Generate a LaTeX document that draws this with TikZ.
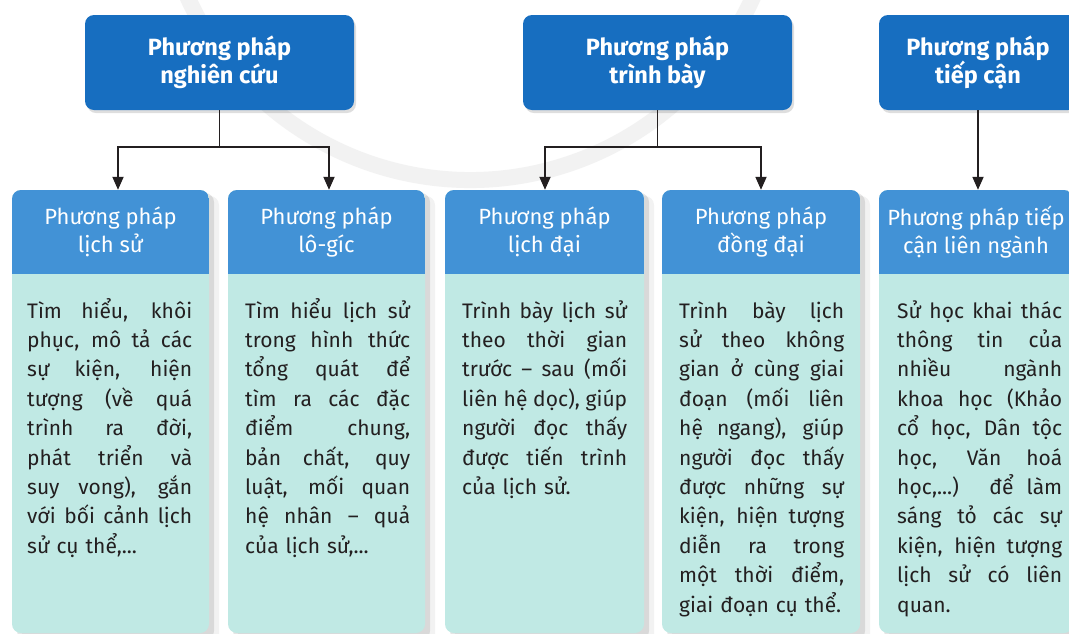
\documentclass[tikz,border=0pt]{standalone}
\usepackage{fontspec}
\setmainfont{Fira Sans}
\usetikzlibrary{arrows.meta,shadows}
\definecolor{topblue}{HTML}{176EC0}
\definecolor{hdrblue}{HTML}{4292D6}
\definecolor{bodyteal}{HTML}{C0E9E4}
\definecolor{ink}{HTML}{231F20}
% one justified line of a column text (normal, stretchable word spaces)
\newcommand\jl[1]{{\spaceskip=0pt\xspaceskip=0pt\makebox[165pt][s]{#1}}\\}
% the closing line of a column text, left aligned and never broken
\newcommand\lastline[1]{\mbox{#1}}
% a column: shadow, teal body, blue header strip and the header node
\newcommand\drawcolumn[4]{%
  \fill[black,opacity=.10,rounded corners=9pt] (#1+5,193) rectangle (#2+5,640);
  \fill[black,opacity=.05,rounded corners=9pt] (#1+10,196) rectangle (#2+10,645);
  \fill[bodyteal,rounded corners=9pt] (#1,190) rectangle (#2,633);
  \begin{scope}
    \clip[rounded corners=9pt] (#1,190) rectangle (#2,633);
    \fill[hdrblue] (#1,190) rectangle (#2,274);
  \end{scope}
  \node[colhead] (#3) at ({(#1+#2)/2},232) {#4};}
\begin{document}
\begin{tikzpicture}[x=1pt,y=-1pt,
  topbox/.style={fill=topblue, rounded corners=9pt, text=white,
    font=\fontsize{23.5}{28}\selectfont\bfseries, align=center,
    minimum height=95pt, inner sep=0pt,
    general shadow={fill=black, opacity=.13, shadow xshift=2pt, shadow yshift=-3pt}},
  colhead/.style={text=white, font=\fontsize{22}{28.5}\selectfont, align=center,
    minimum height=84pt, inner sep=0pt},
  bodytext/.style={text=ink, font=\fontsize{21}{29.4}\selectfont, text width=165pt,
    align=left, inner sep=0pt, anchor=north west},
  link/.style={draw=ink, line width=1.8pt},
  arrow/.style={link, -{Triangle[length=13pt,width=11pt]}}]

\useasboundingbox (0,0) rectangle (1069,633);
\clip (0,0) rectangle (1069,633);
\fill[white] (0,0) rectangle (1069,633);

% faint emblem in the background
\draw[black!5, line width=16pt] (179,-24) arc[start angle=160, end angle=20, radius=310];

% top level boxes
\node[topbox, minimum width=269pt] (t1) at (219.5,62.5) {Phương pháp\\nghiên cứu};
\node[topbox, minimum width=269pt] (t2) at (657.5,62.5) {Phương pháp\\trình bày};
\node[topbox, minimum width=198pt] (t3) at (978,62.5) {Phương pháp\\tiếp cận};

% columns
\drawcolumn{12}{209}{h1}{Phương pháp\\lịch sử}
\drawcolumn{228}{425}{h2}{Phương pháp\\lô-gíc}
\drawcolumn{445}{644}{h3}{Phương pháp\\lịch đại}
\drawcolumn{662}{860}{h4}{Phương pháp\\đồng đại}
\drawcolumn{879}{1073}{h5}{Phương pháp tiếp\\cận liên ngành}

% connectors
\draw[link] (t1.south) -- ++(0,37) coordinate (j1);
\draw[arrow] (j1) -| ([xshift=7.5pt]h1.north);
\draw[arrow] (j1) -| ([xshift=2.5pt]h2.north);
\draw[link] (t2.south) -- ++(0,37) coordinate (j2);
\draw[arrow] (j2) -| ([xshift=0.5pt]h3.north);
\draw[arrow] (j2) -| (h4.north);
\draw[arrow] (t3.south) -- (t3.south |- h5.north);

% column texts
\node[bodytext] (b1) at (27,297.4) {\strut\jl{Tìm hiểu, khôi}\jl{phục, mô tả các}\jl{sự kiện, hiện}\jl{tượng (về quá}\jl{trình ra đời,}\jl{phát triển và}\jl{suy vong), gắn}\jl{với bối cảnh lịch}\lastline{sử cụ thể,...}};
\node[bodytext] (b2) at (245,297.4) {\strut\jl{Tìm hiểu lịch sử}\jl{trong hình thức}\jl{tổng quát để}\jl{tìm ra các đặc}\jl{điểm chung,}\jl{bản chất, quy}\jl{luật, mối quan}\jl{hệ nhân – quả}\lastline{của lịch sử,...}};
\node[bodytext] (b3) at (462,297.4) {\strut\jl{Trình bày lịch sử}\jl{theo thời gian}\jl{trước – sau (mối}\jl{liên hệ dọc), giúp}\jl{người đọc thấy}\jl{được tiến trình}\lastline{của lịch sử.}};
\node[bodytext] (b4) at (679,297.4) {\strut\jl{Trình bày lịch}\jl{sử theo không}\jl{gian ở cùng giai}\jl{đoạn (mối liên}\jl{hệ ngang), giúp}\jl{người đọc thấy}\jl{được những sự}\jl{kiện, hiện tượng}\jl{diễn ra trong}\jl{một thời điểm,}\lastline{giai đoạn cụ thể.}};
\node[bodytext] (b5) at (897,297.4) {\strut\jl{Sử học khai thác}\jl{thông tin của}\jl{nhiều ngành}\jl{khoa học (Khảo}\jl{cổ học, Dân tộc}\jl{học, Văn hoá}\jl{học,...) để làm}\jl{sáng tỏ các sự}\jl{kiện, hiện tượng}\jl{lịch sử có liên}\lastline{quan.}};
\end{tikzpicture}
\end{document}
